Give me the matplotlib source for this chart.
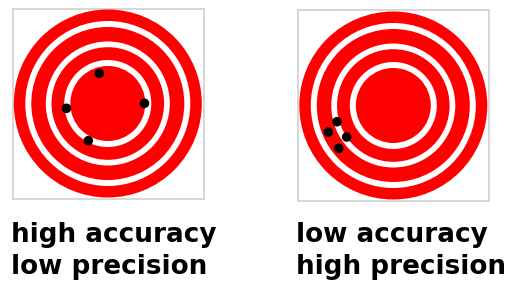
import matplotlib.pyplot as plt
from matplotlib.patches import Circle, Rectangle

# target layout, pixel units (y grows downwards)
centers = [(107.8, 103.5), (393.3, 105.5)]
boxes = [(12.5, 8.5, 191.5, 190.5), (297.5, 10.0, 191.0, 190.5)]
ring_radii = [94, 82.5, 76.5, 62, 56.3, 43.5, 37.5]
ring_colors = ['#ff0000', 'white', '#ff0000', 'white', '#ff0000', 'white', '#ff0000']

# shots
left_x = [99.3, 144.5, 66.5, 88.3]
left_y = [73.3, 103.3, 108.3, 140.7]
right_x = [337.0, 328.3, 346.7, 338.7]
right_y = [121.7, 132.0, 137.0, 148.3]

labels = ['high accuracy\nlow precision', 'low accuracy\nhigh precision']
label_x = [11, 296]

fig = plt.figure(figsize=(5.05, 2.85), dpi=100)
ax = fig.add_axes([0, 0, 1, 1])
ax.set_xlim(0, 505)
ax.set_ylim(285, 0)
ax.axis('off')

for (cx, cy), (bx, by, bw, bh) in zip(centers, boxes):
    ax.add_patch(Rectangle((bx, by), bw, bh, fill=False, ec='#cfcfcf', lw=1.2))
    for r, c in zip(ring_radii, ring_colors):
        ax.add_patch(Circle((cx, cy), r, color=c, lw=0))

for xs, ys in [(left_x, left_y), (right_x, right_y)]:
    for x, y in zip(xs, ys):
        ax.add_patch(Circle((x, y), 4.8, color='black', lw=0))

for x, lab in zip(label_x, labels):
    ax.text(x, 222.5, lab, fontsize=18.9, fontweight='bold', family='DejaVu Sans',
            va='top', ha='left', linespacing=1.28, color='black')

fig.savefig('out.png', dpi=100)
